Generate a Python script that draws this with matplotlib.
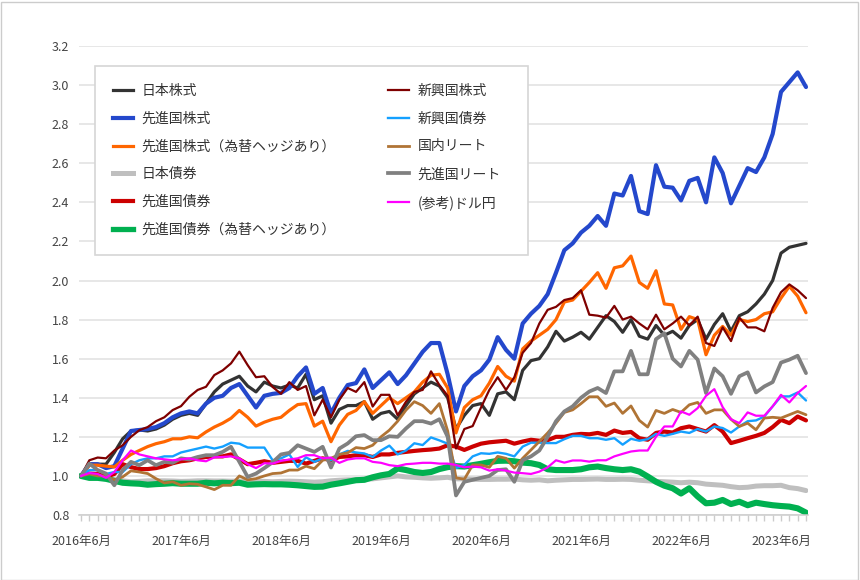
import matplotlib
matplotlib.use('Agg')
import matplotlib.pyplot as plt
from matplotlib.lines import Line2D
from matplotlib.patches import Rectangle
from matplotlib.ticker import FixedLocator, MultipleLocator, FormatStrFormatter

plt.rcParams['font.family'] = ['Noto Sans CJK JP', 'DejaVu Sans']

# ---------------- data (monthly, 2016/6 .. 2023/9, start = 1.0) ----------------
tick_labels = ['2016年6月', '2017年6月', '2018年6月', '2019年6月',
               '2020年6月', '2021年6月', '2022年6月', '2023年6月']
tick_months = [0, 12, 24, 36, 48, 60, 72, 84]

jp_stock = [1.00, 1.06, 1.06, 1.06, 1.12, 1.19, 1.23, 1.235, 1.23, 1.24, 1.26, 1.29,
            1.31, 1.32, 1.31, 1.37, 1.43, 1.47, 1.49, 1.51, 1.46, 1.43, 1.48, 1.46,
            1.45, 1.465, 1.45, 1.52, 1.39, 1.41, 1.27, 1.34, 1.36, 1.36, 1.38, 1.29,
            1.32, 1.33, 1.29, 1.36, 1.42, 1.45, 1.48, 1.46, 1.40, 1.24, 1.31, 1.36,
            1.37, 1.31, 1.42, 1.43, 1.39, 1.54, 1.59, 1.60, 1.66, 1.74, 1.69, 1.71,
            1.735, 1.70, 1.76, 1.82, 1.79, 1.735, 1.80, 1.715, 1.70, 1.77, 1.72, 1.74,
            1.705, 1.77, 1.80, 1.70, 1.775, 1.83, 1.74, 1.82, 1.84, 1.88, 1.93, 2.00,
            2.14, 2.17, 2.18, 2.19]

dev_stock = [1.00, 1.06, 1.06, 1.04, 1.05, 1.14, 1.23, 1.235, 1.24, 1.25, 1.27, 1.30,
             1.32, 1.33, 1.32, 1.37, 1.40, 1.41, 1.45, 1.47, 1.41, 1.35, 1.41, 1.42,
             1.425, 1.45, 1.51, 1.555, 1.42, 1.45, 1.32, 1.40, 1.465, 1.475, 1.545, 1.45,
             1.49, 1.53, 1.47, 1.515, 1.575, 1.635, 1.68, 1.68, 1.52, 1.33, 1.46, 1.51,
             1.54, 1.595, 1.71, 1.645, 1.60, 1.78, 1.83, 1.87, 1.93, 2.04, 2.155, 2.19,
             2.245, 2.28, 2.33, 2.28, 2.445, 2.435, 2.535, 2.355, 2.34, 2.59, 2.48, 2.475,
             2.41, 2.51, 2.525, 2.40, 2.63, 2.55, 2.395, 2.485, 2.575, 2.555, 2.63, 2.75,
             2.965, 3.015, 3.065, 2.99]

dev_stock_h = [1.00, 1.055, 1.055, 1.05, 1.046, 1.08, 1.11, 1.13, 1.15, 1.165, 1.175, 1.19,
               1.19, 1.20, 1.195, 1.225, 1.25, 1.27, 1.295, 1.335, 1.30, 1.255, 1.275, 1.29,
               1.30, 1.335, 1.365, 1.37, 1.255, 1.28, 1.175, 1.26, 1.315, 1.335, 1.38, 1.32,
               1.36, 1.40, 1.37, 1.40, 1.43, 1.48, 1.515, 1.52, 1.45, 1.22, 1.35, 1.39,
               1.41, 1.475, 1.56, 1.51, 1.485, 1.65, 1.69, 1.72, 1.75, 1.80, 1.89, 1.90,
               1.945, 1.99, 2.04, 1.96, 2.065, 2.075, 2.125, 1.99, 1.96, 2.05, 1.88, 1.875,
               1.75, 1.815, 1.80, 1.62, 1.72, 1.765, 1.72, 1.80, 1.79, 1.80, 1.83, 1.84,
               1.91, 1.97, 1.92, 1.835]

jp_bond = [1.00, 0.995, 0.99, 0.985, 0.98, 0.975, 0.97, 0.972, 0.975, 0.975, 0.975, 0.974,
           0.972, 0.973, 0.975, 0.975, 0.974, 0.974, 0.973, 0.974, 0.972, 0.973, 0.972, 0.970,
           0.972, 0.973, 0.972, 0.970, 0.968, 0.970, 0.975, 0.978, 0.980, 0.980, 0.983, 0.985,
           0.990, 0.995, 1.000, 0.995, 0.993, 0.990, 0.988, 0.990, 0.993, 0.985, 0.985, 0.983,
           0.982, 0.982, 0.983, 0.983, 0.984, 0.980, 0.978, 0.980, 0.975, 0.978, 0.980, 0.982,
           0.982, 0.983, 0.984, 0.982, 0.982, 0.983, 0.982, 0.978, 0.975, 0.972, 0.970, 0.968,
           0.965, 0.968, 0.965, 0.958, 0.955, 0.952, 0.945, 0.940, 0.942, 0.948, 0.950, 0.950,
           0.952, 0.940, 0.935, 0.925]

dev_bond = [1.00, 1.012, 1.01, 0.995, 1.01, 1.06, 1.045, 1.035, 1.035, 1.04, 1.05, 1.065,
            1.075, 1.08, 1.09, 1.097, 1.10, 1.10, 1.11, 1.085, 1.06, 1.067, 1.075, 1.067,
            1.072, 1.077, 1.077, 1.063, 1.077, 1.09, 1.08, 1.097, 1.10, 1.106, 1.106, 1.097,
            1.11, 1.11, 1.118, 1.123, 1.128, 1.132, 1.135, 1.14, 1.157, 1.15, 1.133, 1.15,
            1.165, 1.172, 1.176, 1.18, 1.165, 1.176, 1.185, 1.18, 1.183, 1.20, 1.20, 1.21,
            1.215, 1.213, 1.22, 1.21, 1.232, 1.22, 1.225, 1.193, 1.185, 1.22, 1.227, 1.222,
            1.244, 1.253, 1.24, 1.227, 1.26, 1.227, 1.168, 1.18, 1.193, 1.205, 1.22, 1.25,
            1.287, 1.27, 1.304, 1.284]

dev_bond_h = [1.00, 0.99, 0.99, 0.985, 0.975, 0.965, 0.962, 0.96, 0.955, 0.958, 0.96, 0.963,
              0.96, 0.96, 0.96, 0.965, 0.962, 0.965, 0.963, 0.965, 0.955, 0.957, 0.958, 0.957,
              0.957, 0.955, 0.952, 0.948, 0.944, 0.945, 0.955, 0.962, 0.97, 0.978, 0.98, 0.993,
              1.003, 1.01, 1.038, 1.03, 1.02, 1.015, 1.02, 1.035, 1.045, 1.05, 1.048, 1.055,
              1.062, 1.07, 1.077, 1.078, 1.075, 1.068, 1.065, 1.056, 1.034, 1.03, 1.03, 1.03,
              1.034, 1.044, 1.048, 1.04, 1.034, 1.03, 1.034, 1.022, 0.997, 0.97, 0.95, 0.937,
              0.91, 0.937, 0.895, 0.86, 0.863, 0.877, 0.856, 0.868, 0.85, 0.863, 0.856, 0.85,
              0.846, 0.843, 0.834, 0.812]

em_stock = [1.00, 1.08, 1.094, 1.09, 1.13, 1.157, 1.20, 1.234, 1.25, 1.28, 1.30, 1.337,
            1.357, 1.405, 1.44, 1.456, 1.516, 1.54, 1.576, 1.636, 1.567, 1.505, 1.51, 1.455,
            1.42, 1.48, 1.44, 1.46, 1.31, 1.39, 1.30, 1.39, 1.45, 1.43, 1.48, 1.355,
            1.415, 1.415, 1.31, 1.38, 1.43, 1.44, 1.535, 1.465, 1.41, 1.14, 1.24, 1.255,
            1.35, 1.44, 1.505, 1.44, 1.505, 1.63, 1.68, 1.78, 1.85, 1.865, 1.90, 1.91,
            1.95, 1.825, 1.82, 1.81, 1.87, 1.80, 1.815, 1.78, 1.75, 1.825, 1.75, 1.78,
            1.815, 1.77, 1.815, 1.68, 1.665, 1.76, 1.69, 1.81, 1.76, 1.76, 1.74, 1.86,
            1.94, 1.98, 1.95, 1.91]

em_bond = [1.00, 1.03, 1.03, 1.01, 1.02, 1.02, 1.06, 1.08, 1.09, 1.09, 1.10, 1.10,
           1.12, 1.13, 1.14, 1.15, 1.14, 1.15, 1.17, 1.165, 1.145, 1.145, 1.145, 1.08,
           1.09, 1.11, 1.046, 1.095, 1.072, 1.09, 1.08, 1.11, 1.128, 1.12, 1.115, 1.097,
           1.13, 1.155, 1.11, 1.13, 1.167, 1.158, 1.197, 1.182, 1.165, 1.04, 1.056, 1.10,
           1.116, 1.113, 1.12, 1.113, 1.10, 1.15, 1.17, 1.17, 1.168, 1.168, 1.188, 1.205,
           1.205, 1.193, 1.193, 1.185, 1.193, 1.16, 1.19, 1.18, 1.188, 1.215, 1.205, 1.215,
           1.227, 1.22, 1.24, 1.227, 1.253, 1.245, 1.222, 1.253, 1.28, 1.284, 1.304, 1.356,
           1.407, 1.407, 1.427, 1.386]

jreit = [1.00, 1.01, 1.00, 1.00, 0.98, 0.995, 1.026, 1.02, 1.012, 0.986, 0.964, 0.97,
         0.952, 0.96, 0.957, 0.944, 0.93, 0.952, 0.952, 1.00, 0.98, 0.986, 1.00, 1.012,
         1.015, 1.03, 1.03, 1.05, 1.037, 1.08, 1.09, 1.11, 1.118, 1.145, 1.14, 1.157,
         1.20, 1.234, 1.28, 1.337, 1.38, 1.36, 1.32, 1.37, 1.23, 0.99, 0.983, 1.056,
         1.056, 1.044, 1.10, 1.09, 1.04, 1.09, 1.133, 1.176, 1.22, 1.27, 1.325, 1.338,
         1.37, 1.405, 1.405, 1.356, 1.373, 1.32, 1.358, 1.284, 1.25, 1.335, 1.32, 1.34,
         1.325, 1.364, 1.376, 1.32, 1.338, 1.338, 1.29, 1.253, 1.27, 1.236, 1.296, 1.30,
         1.296, 1.313, 1.33, 1.313]

dev_reit = [1.00, 1.063, 1.03, 1.012, 0.952, 1.03, 1.072, 1.055, 1.08, 1.055, 1.072, 1.067,
            1.09, 1.084, 1.097, 1.106, 1.106, 1.123, 1.149, 1.072, 0.995, 1.012, 1.04, 1.07,
            1.11, 1.118, 1.157, 1.14, 1.123, 1.149, 1.043, 1.14, 1.166, 1.203, 1.209, 1.183,
            1.183, 1.203, 1.20, 1.243, 1.28, 1.28, 1.268, 1.29, 1.20, 0.90, 0.97, 0.98,
            0.99, 1.00, 1.03, 1.034, 0.97, 1.08, 1.10, 1.13, 1.20, 1.28, 1.33, 1.356,
            1.40, 1.432, 1.45, 1.424, 1.535, 1.535, 1.64, 1.52, 1.52, 1.70, 1.73, 1.60,
            1.56, 1.64, 1.595, 1.424, 1.55, 1.51, 1.42, 1.51, 1.53, 1.427, 1.458, 1.48,
            1.58, 1.595, 1.615, 1.526]

usdjpy = [1.00, 1.015, 1.01, 0.99, 1.02, 1.08, 1.13, 1.11, 1.10, 1.09, 1.085, 1.08,
          1.085, 1.09, 1.08, 1.075, 1.095, 1.097, 1.10, 1.09, 1.06, 1.04, 1.065, 1.063,
          1.077, 1.084, 1.09, 1.106, 1.106, 1.09, 1.094, 1.067, 1.084, 1.09, 1.09, 1.072,
          1.067, 1.055, 1.05, 1.06, 1.063, 1.067, 1.067, 1.063, 1.063, 1.056, 1.044, 1.048,
          1.044, 1.027, 1.034, 1.027, 1.017, 1.014, 1.01, 1.022, 1.044, 1.08, 1.068, 1.079,
          1.079, 1.073, 1.08, 1.08, 1.10, 1.113, 1.125, 1.13, 1.13, 1.20, 1.253, 1.253,
          1.33, 1.313, 1.347, 1.41, 1.444, 1.352, 1.29, 1.27, 1.325, 1.308, 1.308, 1.356,
          1.415, 1.376, 1.424, 1.46]

series_names = ['日本株式', '先進国株式', '先進国株式（為替ヘッジあり）', '日本債券',
                '先進国債券', '先進国債券（為替ヘッジあり）',
                '新興国株式', '新興国債券', '国内リート', '先進国リート', '(参考)ドル円']
series_values = [jp_stock, dev_stock, dev_stock_h, jp_bond, dev_bond, dev_bond_h,
                 em_stock, em_bond, jreit, dev_reit, usdjpy]

# ---------------- styles ----------------
colors = ['#333333', '#2448CC', '#FF6600', '#BFBFBF', '#CC0000', '#00B050',
          '#7F0000', '#14A0FF', '#B07435', '#808080', '#FF00FF']
widths = [2.3, 3.0, 2.3, 3.6, 3.0, 4.4, 1.6, 1.7, 2.0, 2.7, 1.6]

W, H = 860, 580
fig = plt.figure(figsize=(W / 100, H / 100), dpi=100)
fig.patch.set_facecolor('white')
ax_l, ax_r, ax_t, ax_b = 79, 808, 46, 515
ax = fig.add_axes([ax_l / W, 1 - ax_b / H, (ax_r - ax_l) / W, (ax_b - ax_t) / H])

months = list(range(len(jp_stock)))
for name, vals, c, lw in zip(series_names, series_values, colors, widths):
    ax.plot(months, vals, color=c, lw=lw, solid_joinstyle='round',
            solid_capstyle='round', label=name)

ax.set_xlim(-0.24, 87.24)
ax.set_ylim(0.8, 3.2)
ax.yaxis.set_major_locator(MultipleLocator(0.2))
ax.yaxis.set_major_formatter(FormatStrFormatter('%.1f'))
ax.grid(axis='y', color='#E0E0E0', lw=1.1)
ax.set_axisbelow(True)
for s in ['top', 'right', 'left']:
    ax.spines[s].set_visible(False)
ax.spines['bottom'].set_color('#CCCCCC')
ax.spines['bottom'].set_linewidth(1.1)

ax.xaxis.set_major_locator(FixedLocator(tick_months))
ax.set_xticklabels(tick_labels)
ax.xaxis.set_minor_locator(MultipleLocator(1))
ax.tick_params(axis='x', which='both', length=4, width=1, color='#CCCCCC',
               labelsize=9, labelcolor='#444444', pad=10)
ax.tick_params(axis='y', length=0, labelsize=9, labelcolor='#444444', pad=7)

# legend box
bx0, by0, bx1, by1 = 95, 66, 528, 255
to_ax = lambda px, py: ((px - ax_l) / (ax_r - ax_l), (ax_b - py) / (ax_b - ax_t))
x0a, y1a = to_ax(bx0, by0)
x1a, y0a = to_ax(bx1, by1)
ax.add_patch(Rectangle((x0a, y0a), x1a - x0a, y1a - y0a, transform=ax.transAxes,
                       facecolor='white', edgecolor='#D6D6D6', lw=1.2, zorder=4,
                       clip_on=False))
handles = [Line2D([], [], color=c, lw=min(lw, 3.8)) for c, lw in zip(colors, widths)]
leg = ax.legend(handles, series_names, ncol=2, loc='upper left',
                bbox_to_anchor=(x0a, y1a), borderaxespad=0, frameon=False,
                fontsize=10, handlelength=1.5, handletextpad=0.6,
                columnspacing=3.75, labelspacing=1.0, borderpad=1.27)
for t in leg.get_texts():
    t.set_color('#333333')
leg.set_zorder(5)

# outer frame
fig.add_artist(Rectangle((0.5 / W, 0.5 / H), (W - 2.5) / W, (H - 2) / H,
                         transform=fig.transFigure, fill=False,
                         edgecolor='#CCCCCC', lw=1))

fig.savefig('out.png', dpi=100, facecolor='white')
